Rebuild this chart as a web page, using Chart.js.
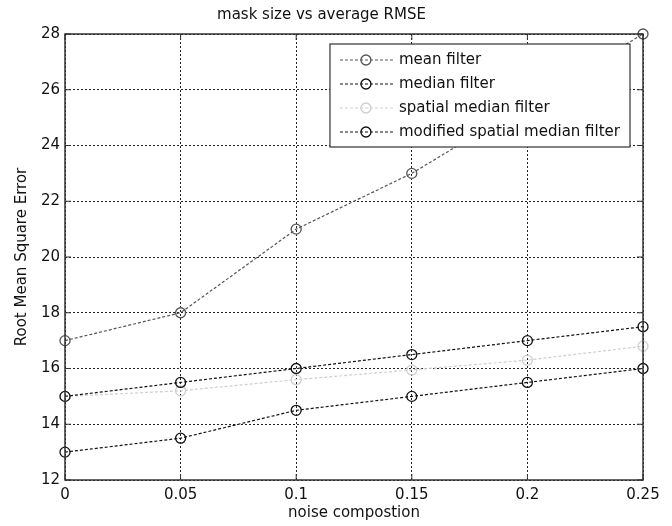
<!DOCTYPE html>
<html><head><meta charset="utf-8">
<script src="https://cdn.jsdelivr.net/npm/chart.js@4/dist/chart.umd.min.js"></script>
<style>html,body{margin:0;padding:0;background:#fff}#wrap{width:672px;height:526px}</style>
</head><body><div id="wrap"><canvas id="c" width="672" height="526"></canvas></div>
<script>
const noise = [0, 0.05, 0.1, 0.15, 0.2, 0.25];
const meanFilter = [17, 18, 21, 23, 25.5, 28];
const medianFilter = [15, 15.5, 16, 16.5, 17, 17.5];
const spatialMedianFilter = [15, 15.2, 15.6, 15.95, 16.3, 16.8];
const modifiedSpatialMedianFilter = [13, 13.5, 14.5, 15, 15.5, 16];
const seriesNames = ['mean filter', 'median filter', 'spatial median filter', 'modified spatial median filter'];
const seriesColors = ['#555555', '#111111', '#cfcfcf', '#111111'];
const xTickValues = [0, 0.05, 0.1, 0.15, 0.2, 0.25];
const xTickLabels = ['0', '0.05', '0.1', '0.15', '0.2', '0.25'];
const yTickValues = [12, 14, 16, 18, 20, 22, 24, 26, 28];
const yTickLabels = ['12', '14', '16', '18', '20', '22', '24', '26', '28'];
const titleText = 'mask size vs average RMSE';
const xTitle = 'noise compostion';
const yTitle = 'Root Mean Square Error';

const FONT = 'DejaVu Sans';
Chart.defaults.font.family = FONT;
Chart.defaults.color = '#111';

const seriesValues = [meanFilter, medianFilter, spatialMedianFilter, modifiedSpatialMedianFilter];
const datasets = seriesValues.map((vals, i) => ({
  label: seriesNames[i],
  data: vals.map((v, j) => ({x: noise[j], y: v})),
  borderColor: seriesColors[i],
  backgroundColor: 'rgba(0,0,0,0)',
  pointBorderColor: seriesColors[i],
  pointBackgroundColor: 'rgba(0,0,0,0)',
  borderWidth: 1.2,
  borderDash: [3, 2],
  pointRadius: 5,
  pointBorderWidth: 1.3,
  pointStyle: 'circle',
  tension: 0,
  clip: false
}));

const framePlugin = {
  id: 'frame',
  afterDatasetsDraw(chart) {
    const {ctx, chartArea: a, scales} = chart;
    ctx.save();
    ctx.setLineDash([]);
    ctx.strokeStyle = '#333';
    ctx.lineWidth = 1.5;
    ctx.strokeRect(a.left, a.top, a.right - a.left, a.bottom - a.top);
    ctx.lineWidth = 1;
    const L = 6;
    ctx.beginPath();
    xTickValues.forEach(v => {
      const x = scales.x.getPixelForValue(v);
      ctx.moveTo(x, a.bottom); ctx.lineTo(x, a.bottom - L);
      ctx.moveTo(x, a.top); ctx.lineTo(x, a.top + L);
    });
    yTickValues.forEach(v => {
      const y = scales.y.getPixelForValue(v);
      ctx.moveTo(a.left, y); ctx.lineTo(a.left + L, y);
      ctx.moveTo(a.right, y); ctx.lineTo(a.right - L, y);
    });
    ctx.stroke();

    // legend box inside plot (top right)
    ctx.font = '15px "' + FONT + '"';
    let maxW = 0;
    chart.data.datasets.forEach(d => { maxW = Math.max(maxW, ctx.measureText(d.label).width); });
    const w = 69 + maxW + 10;
    const h = 103;
    const right = a.right - 13;
    const left = right - w;
    const top = a.top + 10;
    ctx.fillStyle = '#fff';
    ctx.fillRect(left, top, w, h);
    ctx.strokeStyle = '#333';
    ctx.lineWidth = 1.2;
    ctx.strokeRect(left, top, w, h);
    chart.data.datasets.forEach((d, i) => {
      const y = top + 16 + i * 24;
      ctx.strokeStyle = d.borderColor;
      ctx.lineWidth = 1.2;
      ctx.setLineDash([3, 2]);
      ctx.beginPath();
      ctx.moveTo(left + 10, y); ctx.lineTo(left + 64, y);
      ctx.stroke();
      ctx.setLineDash([]);
      ctx.lineWidth = 1.3;
      ctx.beginPath();
      ctx.arc(left + 36, y, 5, 0, Math.PI * 2);
      ctx.stroke();
      ctx.fillStyle = '#111';
      ctx.textAlign = 'left';
      ctx.textBaseline = 'middle';
      ctx.fillText(d.label, left + 69, y);
    });
    ctx.restore();
  }
};

new Chart(document.getElementById('c'), {
  type: 'line',
  data: {datasets},
  options: {
    responsive: false,
    devicePixelRatio: 1,
    animation: false,
    layout: {padding: {left: 0, right: 29, top: 0, bottom: 0}},
    plugins: {
      legend: {display: false},
      tooltip: {enabled: false},
      title: {
        display: true,
        text: titleText,
        color: '#111',
        font: {family: FONT, size: 15, weight: 'normal'},
        padding: {top: 6, bottom: 10}
      }
    },
    scales: {
      x: {
        type: 'linear',
        min: 0, max: 0.25,
        afterBuildTicks(s) { s.ticks = xTickValues.map(v => ({value: v})); },
        afterFit(s) { s.height = 46; },
        ticks: {
          callback: (v, i) => xTickLabels[i],
          font: {size: 15}, color: '#111', padding: 6, maxRotation: 0
        },
        grid: {color: '#222', lineWidth: 1, drawTicks: false},
        border: {display: false, dash: [2, 2]},
        title: {display: true, text: xTitle, color: '#111', font: {size: 15}, padding: {top: 0, bottom: 4}}
      },
      y: {
        min: 12, max: 28,
        afterBuildTicks(s) { s.ticks = yTickValues.map(v => ({value: v})); },
        afterFit(s) { s.width = 65; },
        ticks: {
          callback: (v, i) => yTickLabels[i],
          font: {size: 15}, color: '#111', padding: 5
        },
        grid: {color: '#222', lineWidth: 1, drawTicks: false},
        border: {display: false, dash: [2, 2]},
        title: {display: true, text: yTitle, color: '#111', font: {size: 15}, padding: {top: 13, bottom: 0}}
      }
    }
  },
  plugins: [framePlugin]
});
</script>
</body></html>
